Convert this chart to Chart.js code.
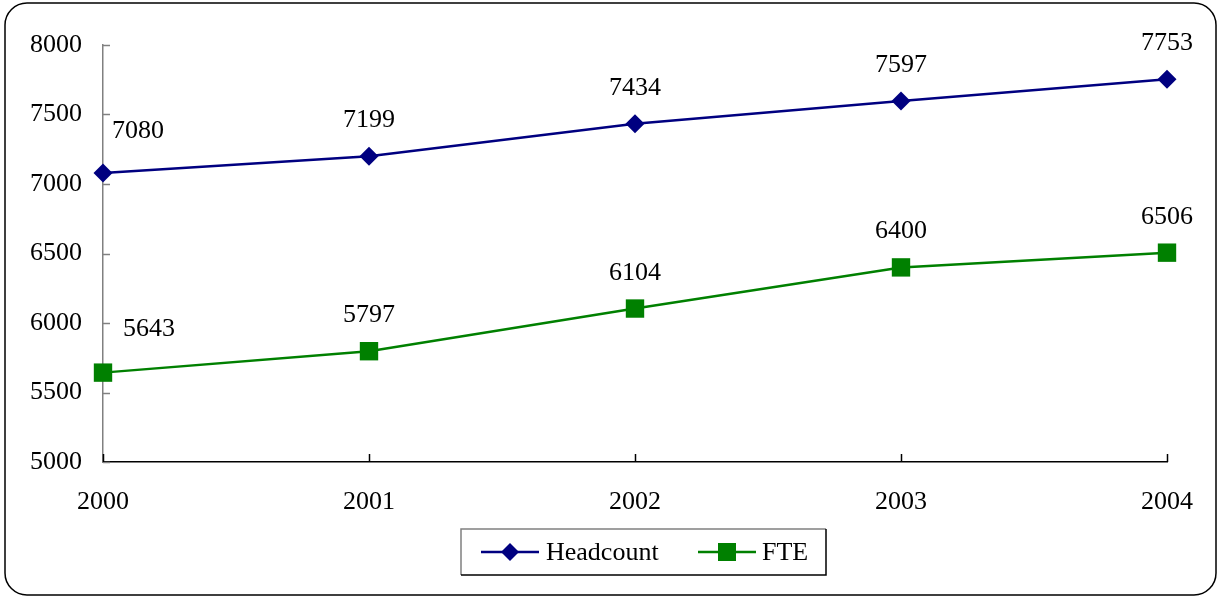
<!DOCTYPE html>
<html>
<head>
<meta charset="utf-8">
<script src="https://cdn.jsdelivr.net/npm/chart.js@4"></script>
<style>
  html, body { margin: 0; padding: 0; background: #fff; }
  #wrap { width: 1218px; height: 598px; position: relative; }
</style>
</head>
<body>
<div id="wrap"><canvas id="c" width="1218" height="598"></canvas></div>
<script>
const years = ['2000', '2001', '2002', '2003', '2004'];
const headcount = [7080, 7199, 7434, 7597, 7753];
const fte = [5643, 5797, 6104, 6400, 6506];
const yTicks = [5000, 5500, 6000, 6500, 7000, 7500, 8000];

const FONT = '"Liberation Serif", "Times New Roman", serif';
const NAVY = '#000080';
const GREEN = '#008000';

const decorPlugin = {
  id: 'decor',
  afterDraw(chart) {
    const ctx = chart.ctx;
    const x = chart.scales.x, y = chart.scales.y;
    ctx.save();
    // inside tick marks on y axis (gray)
    ctx.strokeStyle = '#808080';
    ctx.lineWidth = 1.5;
    yTicks.forEach(v => {
      const py = Math.round(y.getPixelForValue(v)) + 0.5;
      ctx.beginPath(); ctx.moveTo(x.left, py); ctx.lineTo(x.left + 7, py); ctx.stroke();
    });
    // inside tick marks on x axis (black)
    ctx.strokeStyle = '#000';
    years.forEach((_, i) => {
      const px = Math.round(x.getPixelForValue(i)) + 0.5;
      ctx.beginPath(); ctx.moveTo(px, y.bottom); ctx.lineTo(px, y.bottom - 8); ctx.stroke();
    });
    // data labels
    ctx.fillStyle = '#000';
    ctx.font = '26px ' + FONT;
    ctx.textAlign = 'center';
    ctx.textBaseline = 'alphabetic';
    const firstOffsets = [[35, -35], [46, -37]];
    chart.data.datasets.forEach((ds, di) => {
      const meta = chart.getDatasetMeta(di);
      meta.data.forEach((pt, i) => {
        let dx = 0, dy = -29;
        if (i === 0) { dx = firstOffsets[di][0]; dy = firstOffsets[di][1]; }
        ctx.fillText(String(ds.data[i]), pt.x + dx, pt.y + dy);
      });
    });
    // legend box
    const lx = 461, ly = 529, lw = 365, lh = 46;
    ctx.lineWidth = 1.5;
    ctx.strokeStyle = '#808080';
    ctx.beginPath(); ctx.moveTo(lx, ly + lh); ctx.lineTo(lx, ly); ctx.lineTo(lx + lw, ly); ctx.stroke();
    ctx.strokeStyle = '#000';
    ctx.beginPath(); ctx.moveTo(lx + lw, ly); ctx.lineTo(lx + lw, ly + lh); ctx.lineTo(lx, ly + lh); ctx.stroke();
    const cy = 552;
    const items = [
      {label: chart.data.datasets[0].label, color: NAVY, x0: 481, x1: 539, style: 'diamond', tx: 546},
      {label: chart.data.datasets[1].label, color: GREEN, x0: 698, x1: 756, style: 'square', tx: 762}
    ];
    items.forEach(it => {
      ctx.strokeStyle = it.color; ctx.lineWidth = 2.5;
      ctx.beginPath(); ctx.moveTo(it.x0, cy); ctx.lineTo(it.x1, cy); ctx.stroke();
      ctx.fillStyle = it.color;
      const cx = (it.x0 + it.x1) / 2;
      ctx.beginPath();
      if (it.style === 'diamond') {
        ctx.moveTo(cx - 9, cy); ctx.lineTo(cx, cy - 9); ctx.lineTo(cx + 9, cy); ctx.lineTo(cx, cy + 9); ctx.closePath();
      } else {
        ctx.rect(cx - 9, cy - 9, 18, 18);
      }
      ctx.fill();
      ctx.fillStyle = '#000';
      ctx.textAlign = 'left'; ctx.textBaseline = 'middle';
      ctx.fillText(it.label, it.tx, cy + 1);
    });
    // outer rounded border
    ctx.strokeStyle = '#000'; ctx.lineWidth = 1.5;
    ctx.beginPath();
    ctx.roundRect(5, 3, 1211, 592, 22);
    ctx.stroke();
    ctx.restore();
  }
};

new Chart(document.getElementById('c'), {
  type: 'line',
  data: {
    labels: years,
    datasets: [
      {
        label: 'Headcount', data: headcount,
        borderColor: NAVY, backgroundColor: NAVY, borderWidth: 2.5,
        pointStyle: 'rectRot', pointRadius: 9.5, pointHoverRadius: 9.5,
        pointBackgroundColor: NAVY, pointBorderColor: NAVY, pointBorderWidth: 0,
        tension: 0, clip: false
      },
      {
        label: 'FTE', data: fte,
        borderColor: GREEN, backgroundColor: GREEN, borderWidth: 2.5,
        pointStyle: 'rect', pointRadius: 13, pointHoverRadius: 13,
        pointBackgroundColor: GREEN, pointBorderColor: GREEN, pointBorderWidth: 0,
        tension: 0, clip: false
      }
    ]
  },
  options: {
    responsive: false,
    animation: false,
    devicePixelRatio: 1,
    layout: { padding: { left: 0, right: 51, top: 45, bottom: 0 } },
    plugins: { legend: { display: false }, tooltip: { enabled: false } },
    scales: {
      x: {
        offset: false,
        grid: { display: false },
        border: { display: true, color: '#000', width: 1.5 },
        ticks: { color: '#000', font: { family: FONT, size: 26 }, padding: 17, maxRotation: 0, autoSkip: false },
        afterFit(s) { s.height = 136; }
      },
      y: {
        min: 5000, max: 8000,
        grid: { display: false },
        border: { display: true, color: '#808080', width: 1.5 },
        ticks: {
          stepSize: 500, color: '#000', font: { family: FONT, size: 26 }, padding: 13,
          callback: (v) => String(v)
        },
        afterFit(s) { s.width = 103; }
      }
    }
  },
  plugins: [decorPlugin]
});
</script>
</body>
</html>
